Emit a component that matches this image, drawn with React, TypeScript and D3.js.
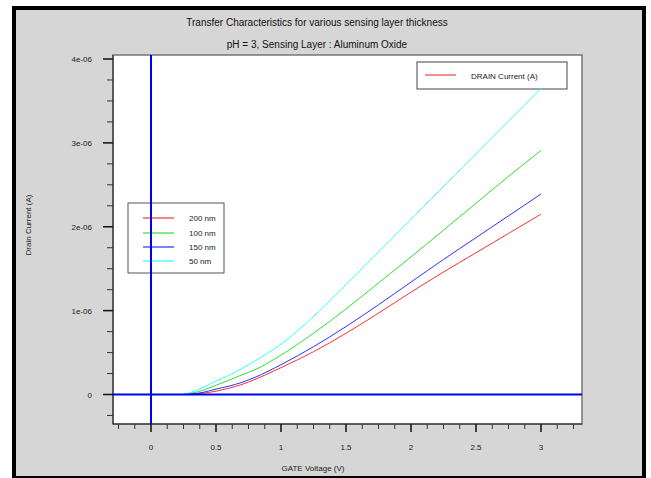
import React from "react";
import * as d3 from "d3";

const gateV = [0.25, 0.3, 0.4, 0.5, 0.6, 0.7, 0.8, 1.0, 1.25, 1.5, 1.75, 2.0, 2.25, 2.5, 2.75, 3.0];
const id200 = [0, 0.003, 0.015, 0.04, 0.075, 0.12, 0.18, 0.32, 0.51, 0.73, 0.97, 1.22, 1.46, 1.69, 1.92, 2.15];
const id150 = [0, 0.005, 0.025, 0.065, 0.1, 0.145, 0.205, 0.355, 0.57, 0.81, 1.07, 1.34, 1.61, 1.87, 2.13, 2.39];
const id100 = [0, 0.012, 0.05, 0.11, 0.17, 0.235, 0.295, 0.47, 0.73, 1.02, 1.33, 1.64, 1.96, 2.28, 2.6, 2.91];
const id50 = [0, 0.02, 0.085, 0.16, 0.23, 0.31, 0.4, 0.6, 0.93, 1.31, 1.7, 2.09, 2.48, 2.87, 3.26, 3.65];

const seriesNames = ["200 nm", "100 nm", "150 nm", "50 nm"];
const seriesColors = ["#ff3030", "#30e030", "#3030ff", "#30ffff"];
const seriesData = [id200, id100, id150, id50];

const xMajor = [0, 0.5, 1, 1.5, 2, 2.5, 3];
const xMajorLabels = ["0", "0.5", "1", "1.5", "2", "2.5", "3"];
const yMajor = [0, 1, 2, 3, 4];
const yMajorLabels = ["0", "1e-06", "2e-06", "3e-06", "4e-06"];

const FONT = "'Liberation Sans', Arial, sans-serif";

export default function App() {
  const W = 651, H = 478;
  const left = 113, right = 582, top = 55, bottom = 424;
  const x = d3.scaleLinear().domain([0, 1]).range([151, 281]);
  const y = d3.scaleLinear().domain([0, 4]).range([394.5, 59]);

  const xMinor = d3.range(-2, 27).map((i) => i * 0.125).filter((v) => x(v) > left && x(v) < right && !xMajor.includes(v));
  const yMinor = d3.range(-1, 17).map((i) => i * 0.25).filter((v) => y(v) < bottom && y(v) > top && !yMajor.includes(v));

  const line = d3
    .line<number>()
    .x((_, i) => x(gateV[i]))
    .y((d) => y(d))
    .curve(d3.curveMonotoneX);

  const legendY = [218, 233, 247, 261];

  return (
    <svg width={W} height={H} style={{ position: "absolute", left: 0, top: 0, background: "#fff" }}>
      <rect x={14} y={8} width={630} height={470} fill="#d6d6d6" stroke="#000" strokeWidth={4} />
      <text x={317} y={26} textAnchor="middle" fontFamily={FONT} fontSize={10} fill="#111">
        Transfer Characteristics for various sensing layer thickness
      </text>
      <text x={317} y={48} textAnchor="middle" fontFamily={FONT} fontSize={10} fill="#111">
        pH = 3, Sensing Layer : Aluminum Oxide
      </text>
      <rect x={left} y={top} width={right - left} height={bottom - top} fill="#fff" stroke="#777" strokeWidth={1.5} />
      <clipPath id="plotclip">
        <rect x={left} y={top} width={right - left} height={bottom - top} />
      </clipPath>
      <line x1={left} y1={top} x2={left} y2={bottom} stroke="#222" strokeWidth={1} />
      <line x1={left} y1={bottom} x2={right} y2={bottom} stroke="#222" strokeWidth={1} />
      {xMajor.map((v, i) => (
        <g key={"xm" + i}>
          <line x1={x(v)} y1={bottom} x2={x(v)} y2={bottom + 8} stroke="#111" strokeWidth={1.5} />
          <text x={x(v)} y={450} textAnchor="middle" fontFamily={FONT} fontSize={8} fill="#222">
            {xMajorLabels[i]}
          </text>
        </g>
      ))}
      {xMinor.map((v, i) => (
        <line key={"xn" + i} x1={x(v)} y1={bottom} x2={x(v)} y2={bottom + 5} stroke="#333" strokeWidth={1} />
      ))}
      {yMajor.map((v, i) => (
        <g key={"ym" + i}>
          <line x1={left - 10} y1={y(v)} x2={left} y2={y(v)} stroke="#111" strokeWidth={1.5} />
          <text x={92} y={y(v) + 3} textAnchor="end" fontFamily={FONT} fontSize={8} fill="#222">
            {yMajorLabels[i]}
          </text>
        </g>
      ))}
      {yMinor.map((v, i) => (
        <line key={"yn" + i} x1={left - 6} y1={y(v)} x2={left} y2={y(v)} stroke="#333" strokeWidth={1} />
      ))}
      <text x={313} y={471} textAnchor="middle" fontFamily={FONT} fontSize={8} fill="#222">
        GATE Voltage (V)
      </text>
      <text transform={`translate(31,225) rotate(-90)`} textAnchor="middle" fontFamily={FONT} fontSize={8} fill="#222">
        Drain Current (A)
      </text>
      <rect x={417} y={62} width={150} height={27} fill="#fff" stroke="#444" strokeWidth={1} />
      <line x1={425} y1={75} x2={456} y2={75} stroke="#e02020" strokeWidth={1} />
      <text x={471} y={79} fontFamily={FONT} fontSize={8} fill="#222">
        DRAIN Current (A)
      </text>
      <rect x={128} y={203} width={96} height={70} fill="#fff" stroke="#555" strokeWidth={1} />
      {seriesNames.map((n, i) => (
        <g key={"lg" + i}>
          <line x1={143} y1={legendY[i]} x2={174} y2={legendY[i]} stroke={seriesColors[i]} strokeWidth={1.2} />
          <text x={189} y={legendY[i] + 3} fontFamily={FONT} fontSize={8} fill="#222">
            {n}
          </text>
        </g>
      ))}
      <g clipPath="url(#plotclip)">
        {seriesData.map((d, i) => (
          <path key={"s" + i} d={line(d) || ""} fill="none" stroke={seriesColors[i]} strokeWidth={1} />
        ))}
        <line x1={x(0)} y1={top} x2={x(0)} y2={bottom} stroke="#0000ee" strokeWidth={2} />
        <line x1={left} y1={y(0)} x2={right} y2={y(0)} stroke="#0000ee" strokeWidth={2} />
      </g>
    </svg>
  );
}
